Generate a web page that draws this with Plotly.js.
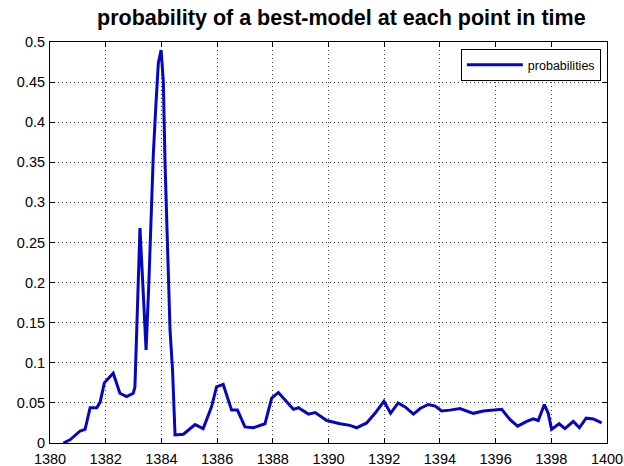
<!DOCTYPE html>
<html>
<head>
<meta charset="utf-8">
<script src="https://cdn.plot.ly/plotly-3.0.1.min.js"></script>
<style>
  html, body { margin: 0; padding: 0; background: #fff; }
  #chart { width: 624px; height: 466px; }
</style>
</head>
<body>
<div id="chart"></div>
<script>
// Time points (years) and the probability of the best model at each one
const years = [
  1380.48, 1380.72, 1381.08, 1381.26, 1381.44, 1381.68, 1381.8, 1381.95,
  1382.27, 1382.51, 1382.75, 1382.99, 1383.05, 1383.17, 1383.23, 1383.33,
  1383.45, 1383.55, 1383.63, 1383.71, 1383.8, 1383.89, 1383.99, 1384.07,
  1384.13, 1384.19, 1384.31, 1384.4, 1384.49, 1384.79, 1385.21, 1385.5,
  1385.8, 1385.98, 1386.22, 1386.52, 1386.73, 1387.0, 1387.3, 1387.72,
  1387.96, 1388.2, 1388.74, 1388.92, 1389.28, 1389.52, 1389.94, 1390.41,
  1390.77, 1391.01, 1391.37, 1391.67, 1391.99, 1392.23, 1392.5, 1392.75,
  1393.05, 1393.29, 1393.58, 1393.83, 1394.06, 1394.36, 1394.72, 1395.2,
  1395.56, 1396.22, 1396.52, 1396.79, 1397.12, 1397.35, 1397.53, 1397.75,
  1397.89, 1398.01, 1398.28, 1398.49, 1398.79, 1399.01, 1399.25, 1399.51,
  1399.81
];
const probabilities = [
  0.0, 0.004, 0.015, 0.017, 0.044, 0.044, 0.051, 0.075,
  0.087, 0.062, 0.058, 0.062, 0.07, 0.224, 0.268, 0.2,
  0.116, 0.2, 0.288, 0.36, 0.42, 0.474, 0.49, 0.45,
  0.35, 0.278, 0.141, 0.091, 0.01, 0.011, 0.023, 0.018,
  0.045, 0.07, 0.073, 0.041, 0.041, 0.02, 0.019, 0.024,
  0.056, 0.063, 0.042, 0.044, 0.036, 0.038, 0.028, 0.024,
  0.022, 0.019, 0.025, 0.037, 0.052, 0.037, 0.05, 0.045,
  0.036, 0.043, 0.048, 0.046, 0.04, 0.041, 0.043, 0.037,
  0.04, 0.042, 0.029, 0.021, 0.027, 0.03, 0.028, 0.048,
  0.037, 0.017, 0.024, 0.018, 0.027, 0.019, 0.031, 0.03,
  0.025
];
const xTicks = [1380, 1382, 1384, 1386, 1388, 1390, 1392, 1394, 1396, 1398, 1400];
const yTicks = [0, 0.05, 0.1, 0.15, 0.2, 0.25, 0.3, 0.35, 0.4, 0.45, 0.5];
const yTickText = ['0', '0.05', '0.1', '0.15', '0.2', '0.25', '0.3', '0.35', '0.4', '0.45', '0.5'];

const FONT = 'Liberation Sans, Arial, sans-serif';

const trace = {
  x: years,
  y: probabilities,
  type: 'scatter',
  mode: 'lines',
  name: 'probabilities',
  line: { color: '#0606c0', width: 3 }
};

const axisCommon = {
  showline: true,
  linecolor: '#000',
  linewidth: 1,
  mirror: 'ticks',
  ticks: 'inside',
  ticklen: 5,
  tickcolor: '#000',
  showgrid: true,
  gridcolor: '#444',
  griddash: '1px,3px',
  gridwidth: 1,
  zeroline: false,
  tickfont: { family: FONT, size: 14.5, color: '#000' }
};

const layout = {
  width: 624,
  height: 466,
  margin: { l: 50, r: 17, t: 42, b: 23 },
  paper_bgcolor: '#fff',
  plot_bgcolor: '#fff',
  title: {
    text: '<b>probability of a best-model at each point in time</b>',
    font: { family: FONT, size: 21.5, color: '#000' },
    x: 0.547,
    xanchor: 'center',
    y: 0.962,
    yanchor: 'middle'
  },
  xaxis: Object.assign({}, axisCommon, {
    range: [1380, 1400],
    tickmode: 'array',
    tickvals: xTicks,
    ticktext: xTicks.map(String),
    ticklabelstandoff: 3
  }),
  yaxis: Object.assign({}, axisCommon, {
    range: [0, 0.5],
    tickmode: 'array',
    tickvals: yTicks,
    ticktext: yTickText,
    ticklabelstandoff: 1
  }),
  showlegend: true,
  legend: {
    x: 0.989,
    y: 0.982,
    xanchor: 'right',
    yanchor: 'top',
    bgcolor: '#fff',
    bordercolor: '#000',
    borderwidth: 1,
    itemwidth: 56,
    font: { family: FONT, size: 12.5, color: '#000' }
  }
};

Plotly.newPlot('chart', [trace], layout, { displayModeBar: false, staticPlot: true });
</script>
</body>
</html>
